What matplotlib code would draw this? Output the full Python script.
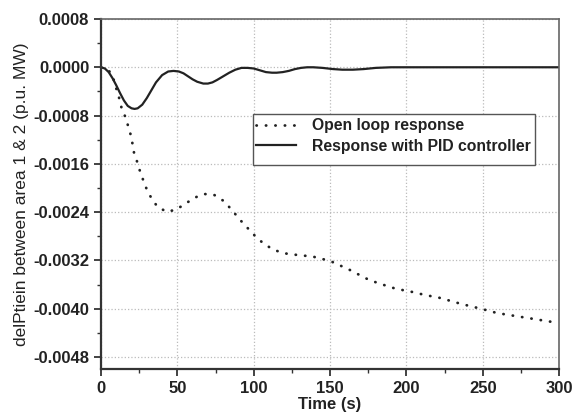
import matplotlib
matplotlib.use("Agg")
import matplotlib.pyplot as plt
from matplotlib.ticker import MultipleLocator, FormatStrFormatter
from matplotlib.patches import Rectangle

plt.rcParams['font.family'] = ['Liberation Sans', 'DejaVu Sans']

# Open loop response (dotted)
t_open = [0, 3, 6, 8, 10.3, 12, 13.6, 16.4, 17.9, 19.8, 21.8, 24.0, 25.6, 27.7, 29.9, 32.8, 36.9,
          43.0, 49.1, 55.3, 61.4, 67.5, 73.8, 80.0, 85.6, 90.4, 95.5, 100.7, 106.8, 112.9,
          119.1, 125.4, 131.5, 137.6, 143.9, 150.1, 156.2, 162.3, 168.4, 174.5, 180.7,
          186.8, 193.1, 199.2, 205.3, 211.5, 217.6, 223.7, 229.8, 235.9, 242.0, 248.8,
          254.5, 260.6, 266.7, 272.8, 279.0, 285.1, 291.2, 297.3, 300]
v_open = [0, -0.00002, -0.00008, -0.00018, -0.00038, -0.00052, -0.00069, -0.00085, -0.00099, -0.00115,
          -0.001444, -0.001588, -0.00173, -0.001875, -0.00202, -0.00216, -0.00231,
          -0.002395, -0.00236, -0.00226, -0.00216, -0.00210, -0.00211, -0.00221, -0.00236,
          -0.00251, -0.00265, -0.00279, -0.00293, -0.00302, -0.00308, -0.00310, -0.00312,
          -0.00313, -0.00317, -0.00321, -0.00328, -0.00335, -0.00343, -0.00351, -0.00357,
          -0.00362, -0.00367, -0.00370, -0.00373, -0.00377, -0.00380, -0.00383, -0.00388,
          -0.00392, -0.00396, -0.00400, -0.00404, -0.00408, -0.00410, -0.00413, -0.00415,
          -0.00418, -0.00420, -0.00423, -0.00424]

# Response with PID controller (solid)
t_pid = [0, 2.5, 5, 7.5, 10, 12.5, 15, 17.5, 20, 22, 24, 27, 30, 33, 36, 40, 44, 47.5, 51, 54,
         57, 60, 63, 67, 70, 73, 76, 80, 84, 88, 92, 96, 100, 104, 108, 112, 115, 119, 123,
         127, 131, 135, 139, 145, 152, 158, 165, 172, 180, 190, 200, 220, 250, 300]
v_pid = [0, -0.00002, -0.00008, -0.00018, -0.00030, -0.00043, -0.00055, -0.00064, -0.00068,
         -0.00069, -0.00068, -0.00062, -0.00051, -0.00038, -0.00025, -0.00013, -0.00007,
         -0.00006, -0.00007, -0.00010, -0.00015, -0.00020, -0.00024, -0.00027, -0.00027,
         -0.00025, -0.00021, -0.00015, -0.00009, -0.00004, -0.00001, -0.00001, -0.00002,
         -0.00005, -0.00008, -0.00009, -0.00009, -0.00008, -0.00006, -0.00003, -0.00001,
         0.0, 0.0, -0.00001, -0.00003, -0.00004, -0.00004, -0.00003, -0.00001, 0.0, 0.0,
         0.0, 0.0, 0.0]

x_ticks = [0, 50, 100, 150, 200, 250, 300]
y_ticks = [0.0008, 0.0, -0.0008, -0.0016, -0.0024, -0.0032, -0.0040, -0.0048]

fig = plt.figure(figsize=(5.74, 4.13), dpi=100)
ax = fig.add_axes([0.176, 0.1065, 0.798, 0.8475])

ax.plot(t_open, v_open, color='#222222', lw=2.0, linestyle=(0, (0.1, 3.3)),
        dash_capstyle='round', label='Open loop response')
ax.plot(t_pid, v_pid, color='#222222', lw=1.6, label='Response with PID controller')

ax.set_xlim(0, 300)
ax.set_ylim(-0.0050, 0.0008)
ax.set_xticks(x_ticks)
ax.set_yticks(y_ticks)
ax.yaxis.set_major_formatter(FormatStrFormatter('%.4f'))
ax.xaxis.set_minor_locator(MultipleLocator(25))
ax.yaxis.set_minor_locator(MultipleLocator(0.0004))
ax.tick_params(which='major', direction='out', length=5, width=1.2, labelsize=12, colors='#222222')
ax.tick_params(which='minor', direction='out', length=3, width=1.0, colors='#333333')
for lab in ax.get_xticklabels() + ax.get_yticklabels():
    lab.set_fontweight('bold')

ax.grid(True, which='major', color='#bbbbbb', linestyle=':', linewidth=0.9)

for s in ['left', 'bottom']:
    ax.spines[s].set_linewidth(1.6)
    ax.spines[s].set_color('#333333')
for s in ['top', 'right']:
    ax.spines[s].set_linewidth(1.2)
    ax.spines[s].set_color('#666666')

ax.set_xlabel('Time (s)', fontsize=12, fontweight='bold', color='#222222', labelpad=1)
ax.set_ylabel('delPtiein between area 1 & 2 (p.u. MW)', fontsize=12.5, color='#222222', labelpad=3)

# legend frame (Origin-style box with extra space at bottom)
ax.add_patch(Rectangle((0.332, 0.583), 0.616, 0.146, transform=ax.transAxes,
                       facecolor='white', edgecolor='#555555', lw=1.0, zorder=4))
leg = ax.legend(loc='upper left', bbox_to_anchor=(0.332, 0.726), fontsize=11.3,
                frameon=False, handlelength=2.55, borderpad=0.2,
                labelspacing=0.35, handletextpad=1.02, borderaxespad=0)
leg.set_zorder(5)
for txt in leg.get_texts():
    txt.set_fontweight('bold')
    txt.set_color('#222222')

fig.savefig('out.png', dpi=100)
